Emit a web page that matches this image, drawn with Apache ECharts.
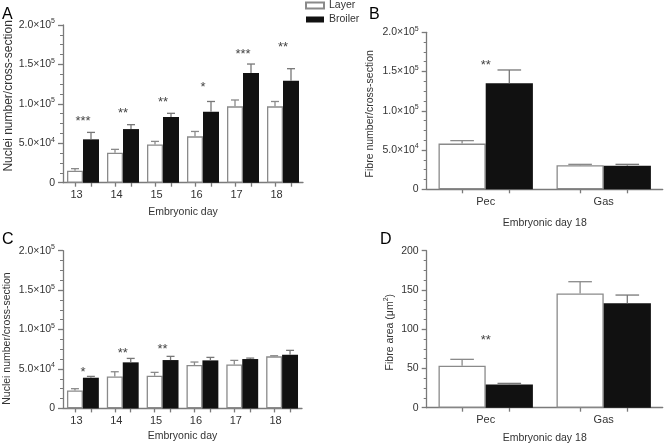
<!DOCTYPE html>
<html><head><meta charset="utf-8">
<script src="https://cdn.jsdelivr.net/npm/echarts@6/dist/echarts.min.js"></script>
<style>html,body{margin:0;padding:0;background:#fff}#c{width:665px;height:445px}</style>
</head><body><div id="c"></div>
<script>
// ---------- data ----------
const days = ['13', '14', '15', '16', '17', '18'];
const muscles = ['Pec', 'Gas'];

// Panel A: nuclei number, pectoralis
const layerA = [15200, 38000, 48600, 58800, 96800, 96800];
const layerASem = [2600, 4300, 3800, 6200, 8100, 6200];
const broilerA = [55000, 68000, 83300, 90000, 139000, 129400];
const broilerASem = [8800, 5600, 4700, 13000, 11500, 15200];
const starsA = ['***', '**', '**', '*', '***', '**'];
const starsAY = [81200, 91300, 106200, 125200, 166100, 175500];

// Panel B: fibre number, day 18
const layerB = [58200, 30600];
const layerBSem = [3800, 1200];
const broilerB = [135000, 30100];
const broilerBSem = [17000, 1700];
const starsB = ['**', ''];
const starsBY = [161800, 0];

// Panel C: nuclei number, gastrocnemius
const layerC = [22800, 40600, 41400, 55000, 55800, 66000];
const layerCSem = [2200, 5900, 4300, 3800, 5100, 800];
const broilerC = [38900, 58400, 61300, 60900, 62600, 68000];
const broilerCSem = [1700, 5000, 4700, 3800, 1200, 5600];
const starsC = ['*', '**', '**', '', '', ''];
const starsCY = [49800, 73000, 78100, 0, 0, 0];

// Panel D: fibre area, day 18
const layerD = [53.5, 145.6];
const layerDSem = [8.1, 14.9];
const broilerD = [29.7, 132.9];
const broilerDSem = [1.3, 10.6];
const starsD = ['**', ''];
const starsDY = [89.2, 0];

// ---------- styling ----------
const FONT = 'Liberation Sans, Arial, Helvetica, sans-serif';
const TXT = '#333';
const LINE = '#7a7a7a';
const BLACK = '#111';
const GAP = 0.20;          // barCategoryGap
const SUB = 10;            // helper-axis subdivisions per category

function sci(v) {
  if (v === 0) return '{b|0}';
  const e = Math.floor(Math.log10(v) + 1e-9);
  const m = (v / Math.pow(10, e)).toFixed(1);
  return '{b|' + m + '×10}{s|' + e + '}';
}
const sciRich = {
  b: { fontSize: 10.5, fontFamily: FONT, color: TXT },
  s: { fontSize: 7, fontFamily: FONT, color: TXT, padding: [0, 0, 7, 0] }
};

const panels = [
  { cats: days, l: layerA, ls: layerASem, b: broilerA, bs: broilerASem, st: starsA, sy: starsAY,
    grid: { left: 63, top: 25, width: 240, height: 157.7 }, max: 200000, sci: true,
    yName: 'Nuclei number/cross-section', yFont: 12, yGap: 48, yPad: [0, 0, 0, 16],
    xName: 'Embryonic day', xGap: 24, shift: 13 },
  { cats: muscles, l: layerB, ls: layerBSem, b: broilerB, bs: broilerBSem, st: starsB, sy: starsBY,
    grid: { left: 426.7, top: 32.3, width: 236, height: 157 }, max: 200000, sci: true,
    yName: 'Fibre number/cross-section', yFont: 10.5, yGap: 51, yPad: [0, 6, 0, 0],
    xName: 'Embryonic day 18', xGap: 28, shift: 0 },
  { cats: days, l: layerC, ls: layerCSem, b: broilerC, bs: broilerCSem, st: starsC, sy: starsCY,
    grid: { left: 63, top: 250.7, width: 239, height: 157.7 }, max: 200000, sci: true,
    yName: 'Nuclei number/cross-section', yFont: 10.5, yGap: 50, yPad: [0, 18, 0, 0],
    xName: 'Embryonic day', xGap: 22, shift: 13 },
  { cats: muscles, l: layerD, ls: layerDSem, b: broilerD, bs: broilerDSem, st: starsD, sy: starsDY,
    grid: { left: 426.7, top: 250.7, width: 236, height: 157 }, max: 200, sci: false,
    yName: '{a|Fibre area (μm}{s|2}{a|)}', yFont: 10.5, yGap: 30, yPad: [0, 6, 0, 0],
    xName: 'Embryonic day 18', xGap: 25, shift: 0 }
];

const grid = [], xAxis = [], yAxis = [], series = [];

function errRender(sign, color) {
  return function (params, api) {
    const i = api.value(0), m = api.value(1), e = api.value(2);
    const w = api.size([1, 0])[0];
    const barW = w * (1 - GAP) / 2;
    const off = sign * barW / 2;
    const p0 = api.coord([i, m]);
    const p1 = api.coord([i, m + e]);
    const x = p0[0] + off;
    const cap = barW / 4;
    const st = { stroke: color, lineWidth: 1.3 };
    return { type: 'group', children: [
      { type: 'line', shape: { x1: x, y1: p0[1], x2: x, y2: p1[1] }, style: st },
      { type: 'line', shape: { x1: x - cap, y1: p1[1], x2: x + cap, y2: p1[1] }, style: st }
    ] };
  };
}
function starRender(params, api) {
  const p = api.coord([api.value(0), api.value(1)]);
  const t = api.value(2);
  if (!t) return null;
  return { type: 'text', x: p[0], y: p[1] + 3,
    style: { text: t, fontSize: 13, fontFamily: FONT, fill: '#444', align: 'center', verticalAlign: 'middle' } };
}

panels.forEach((p, k) => {
  grid.push(p.grid);
  const axisLineStyle = { color: LINE, width: 1.3 };
  xAxis.push({
    type: 'category', gridIndex: k, data: p.cats, position: 'bottom',
    axisLine: { show: true, lineStyle: axisLineStyle },
    axisTick: { show: false },
    axisLabel: { fontSize: 11, fontFamily: FONT, color: TXT, margin: 7, padding: [0, p.shift, 0, 0] },
    name: p.xName, nameLocation: 'middle', nameGap: p.xGap,
    nameTextStyle: { fontSize: 10.5, fontFamily: FONT, color: TXT },
    splitLine: { show: false }
  });
  yAxis.push({
    type: 'value', gridIndex: k, min: 0, max: p.max, interval: p.max / 4,
    axisLine: { show: true, lineStyle: axisLineStyle },
    axisTick: { show: true, inside: false, length: 5, lineStyle: { color: LINE, width: 1.3 } },
    minorTick: { show: true, splitNumber: 4, length: 3, lineStyle: { color: LINE, width: 1 } },
    splitLine: { show: false },
    axisLabel: p.sci
      ? { formatter: sci, rich: sciRich, margin: 8 }
      : { fontSize: 10.5, fontFamily: FONT, color: TXT, margin: 8 },
    name: p.yName, nameLocation: 'middle', nameRotate: 90, nameGap: p.yGap,
    nameTextStyle: { fontSize: p.yFont, fontFamily: FONT, color: TXT, padding: p.yPad,
      rich: { a: { fontSize: p.yFont, fontFamily: FONT, color: TXT },
              s: { fontSize: 7, fontFamily: FONT, color: TXT, padding: [0, 0, 7, 0] } } }
  });
});
// helper axes: one tick under the centre of every bar
panels.forEach((p, k) => {
  const n = p.cats.length;
  const off = Math.round(SUB * (1 - GAP) / 4);     // bar-centre offset in sub-steps
  const pts = new Array(n * SUB + 1).fill('');
  xAxis.push({
    type: 'category', gridIndex: k, position: 'bottom', boundaryGap: false, data: pts,
    axisLine: { show: false }, axisLabel: { show: false }, splitLine: { show: false },
    axisTick: { show: true, length: 4, lineStyle: { color: LINE, width: 1.3 },
      interval: function (idx) { const r = idx % SUB; return r === SUB / 2 - off || r === SUB / 2 + off; } }
  });
});

panels.forEach((p, k) => {
  const gapPct = Math.round(GAP * 100) + '%';
  series.push({
    name: 'Layer', type: 'bar', xAxisIndex: k, yAxisIndex: k, data: p.l,
    barGap: '0%', barCategoryGap: gapPct,
    itemStyle: { color: '#fff', borderColor: '#8a8a8a', borderWidth: 1.3 },
    emphasis: { disabled: true }
  });
  series.push({
    name: 'Broiler', type: 'bar', xAxisIndex: k, yAxisIndex: k, data: p.b,
    barGap: '0%', barCategoryGap: gapPct,
    itemStyle: { color: BLACK, borderColor: BLACK, borderWidth: 0 },
    emphasis: { disabled: true }
  });
  series.push({
    type: 'custom', xAxisIndex: k, yAxisIndex: k, z: 5,
    data: p.l.map((v, i) => [i, v, p.ls[i]]),
    encode: { x: 0, y: 1 }, renderItem: errRender(-1, '#8a8a8a'), silent: true
  });
  series.push({
    type: 'custom', xAxisIndex: k, yAxisIndex: k, z: 5,
    data: p.b.map((v, i) => [i, v, p.bs[i]]),
    encode: { x: 0, y: 1 }, renderItem: errRender(1, '#777'), silent: true
  });
  series.push({
    type: 'custom', xAxisIndex: k, yAxisIndex: k, z: 6,
    data: p.st.map((t, i) => [i, p.sy[i], t]),
    encode: { x: 0, y: 1 }, renderItem: starRender, silent: true
  });
});

const chart = echarts.init(document.getElementById('c'), null, { renderer: 'canvas' });
chart.setOption({
  animation: false,
  backgroundColor: '#fff',
  textStyle: { fontFamily: FONT },
  legend: {
    data: ['Layer', 'Broiler'], orient: 'vertical', left: 305, top: 0, padding: 0,
    itemWidth: 18, itemHeight: 6, itemGap: 3, icon: 'rect',
    textStyle: { fontSize: 10.5, fontFamily: FONT, color: TXT }, selectedMode: false
  },
  graphic: [
    { type: 'text', left: 2, top: 7, style: { text: 'A', fontSize: 16, fontFamily: FONT, fill: '#000' } },
    { type: 'text', left: 369, top: 7, style: { text: 'B', fontSize: 16, fontFamily: FONT, fill: '#000' } },
    { type: 'text', left: 2, top: 232, style: { text: 'C', fontSize: 16, fontFamily: FONT, fill: '#000' } },
    { type: 'text', left: 380, top: 232, style: { text: 'D', fontSize: 16, fontFamily: FONT, fill: '#000' } }
  ],
  grid, xAxis, yAxis, series
});
</script></body></html>
